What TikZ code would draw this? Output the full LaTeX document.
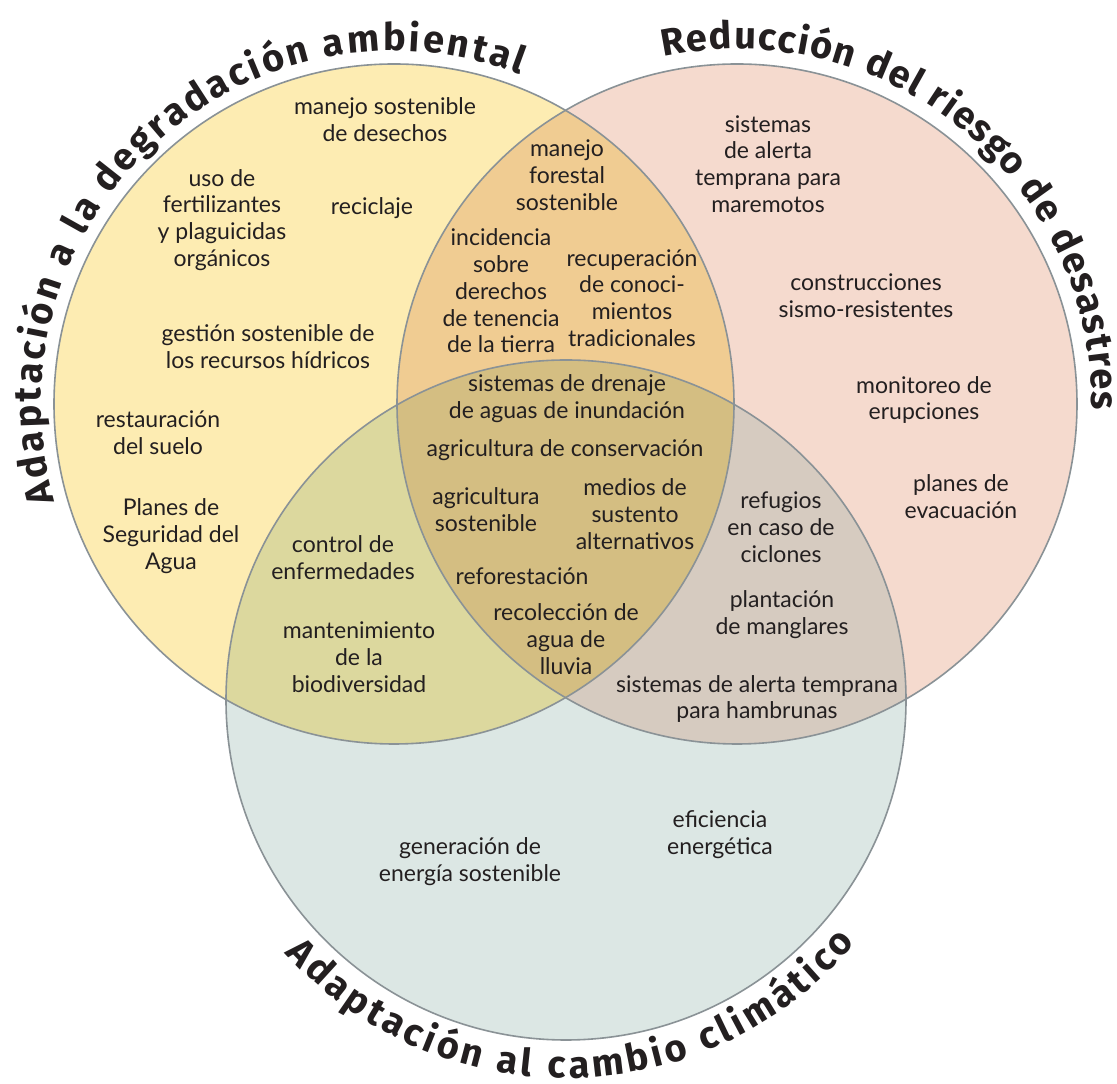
\documentclass[tikz,border=0pt]{standalone}
\usepackage{fontspec}
\setmainfont{Lato}
\newfontfamily\titlefamily{Fira Sans}
\usetikzlibrary{decorations.text}
\definecolor{cyel}{RGB}{253,236,178}
\definecolor{cpink}{RGB}{245,218,206}
\definecolor{cteal}{RGB}{220,231,228}
\definecolor{cLR}{RGB}{240,204,146}
\definecolor{cLB}{RGB}{220,216,158}
\definecolor{cRB}{RGB}{214,203,192}
\definecolor{cLRB}{RGB}{212,190,130}
\definecolor{cline}{RGB}{138,146,150}
\definecolor{txt}{RGB}{35,31,32}
\newcommand\mytitlefont{\titlefamily\bfseries\fontsize{38}{40}\selectfont}
\begin{document}
\begin{tikzpicture}[x=1pt,y=1pt,
  lbl/.style={font=\fontsize{23}{26.8}\selectfont, align=center, text=txt, inner sep=0pt},
  ring/.style={draw=cline, line width=1.6pt},
  ttl/.style={decorate, decoration={text along path, text color=txt, text align=fit to path, text={|\mytitlefont|#1}}}]
\useasboundingbox (0,0) rectangle (1117,1084);
\fill[white] (0,0) rectangle (1117,1084);
\coordinate (cL) at (394,680);
\coordinate (cR) at (737,680);
\coordinate (cB) at (566,384);
% base fills
\fill[cyel] (cL) circle[radius=340];
\fill[cpink] (cR) circle[radius=340];
\fill[cteal] (cB) circle[radius=340];
% overlaps
\begin{scope}\clip (cL) circle[radius=340]; \fill[cLR] (cR) circle[radius=340];\end{scope}
\begin{scope}\clip (cL) circle[radius=340]; \fill[cLB] (cB) circle[radius=340];\end{scope}
\begin{scope}\clip (cR) circle[radius=340]; \fill[cRB] (cB) circle[radius=340];\end{scope}
\begin{scope}\clip (cL) circle[radius=340]; \clip (cR) circle[radius=340]; \fill[cLRB] (cB) circle[radius=340];\end{scope}
% outlines
\draw[ring] (cL) circle[radius=340];
\draw[ring] (cR) circle[radius=340];
\draw[ring] (cB) circle[radius=340];
% titles
\path[ttl={Adaptación a la degradación ambiental}] ([shift={(196:353)}]cL) arc[start angle=196, end angle=69, radius=353];
\path[ttl={Reducción del riesgo de desastres}] ([shift={(102:355)}]cR) arc[start angle=102, end angle=-1, radius=355];
\path[ttl={Adaptación al cambio climático}] ([shift={(222:378)}]cB) arc[start angle=222, end angle=320, radius=378];
% left only
\node[lbl] (n1) at (385,964) {manejo sostenible\\de desechos};
\node[lbl] (n2) at (222,864) {uso de\\fertilizantes\\y plaguicidas\\orgánicos};
\node[lbl] (n3) at (372,876) {reciclaje};
\node[lbl] (n4) at (268,737) {gestión sostenible de\\los recursos hídricos};
\node[lbl] (n5) at (158,651) {restauración\\del suelo};
\node[lbl] (n6) at (171,548) {Planes de\\Seguridad del\\Agua};
% left-right
\node[lbl] (n7) at (567,909) {manejo\\forestal\\sostenible};
\node[lbl] (n8) at (501,793) {incidencia\\sobre\\derechos\\de tenencia\\de la tierra};
\node[lbl] (n9) at (632,786) {recuperación\\de conoci-\\mientos\\tradicionales};
% right only
\node[lbl] (n10) at (768,920) {sistemas\\de alerta\\temprana para\\maremotos};
\node[lbl] (n11) at (866,788) {construcciones\\sismo-resistentes};
\node[lbl] (n12) at (924,684) {monitoreo de\\erupciones};
\node[lbl] (n13) at (961,587) {planes de\\evacuación};
% centre
\node[lbl] (n14) at (567,685) {sistemas de drenaje\\de aguas de inundación};
\node[lbl] (n15) at (565,634) {agricultura de conservación};
\node[lbl] (n16) at (486,574) {agricultura\\sostenible};
\node[lbl] (n17) at (635,570) {medios de\\sustento\\alternativos};
\node[lbl] (n18) at (522,508) {reforestación};
\node[lbl] (n19) at (566,445) {recolección de\\agua de\\lluvia};
% left-bottom
\node[lbl] (n20) at (343,526) {control de\\enfermedades};
\node[lbl] (n21) at (359,427) {mantenimiento\\de la\\biodiversidad};
% right-bottom
\node[lbl] (n22) at (781,557) {refugios\\en caso de\\ciclones};
\node[lbl] (n23) at (782,469) {plantación\\de manglares};
\node[lbl] (n24) at (757,385) {sistemas de alerta temprana\\para hambrunas};
% bottom only
\node[lbl] (n25) at (470,222) {generación de\\energía sostenible};
\node[lbl] (n26) at (720,249) {eficiencia\\energética};
\end{tikzpicture}
\end{document}
